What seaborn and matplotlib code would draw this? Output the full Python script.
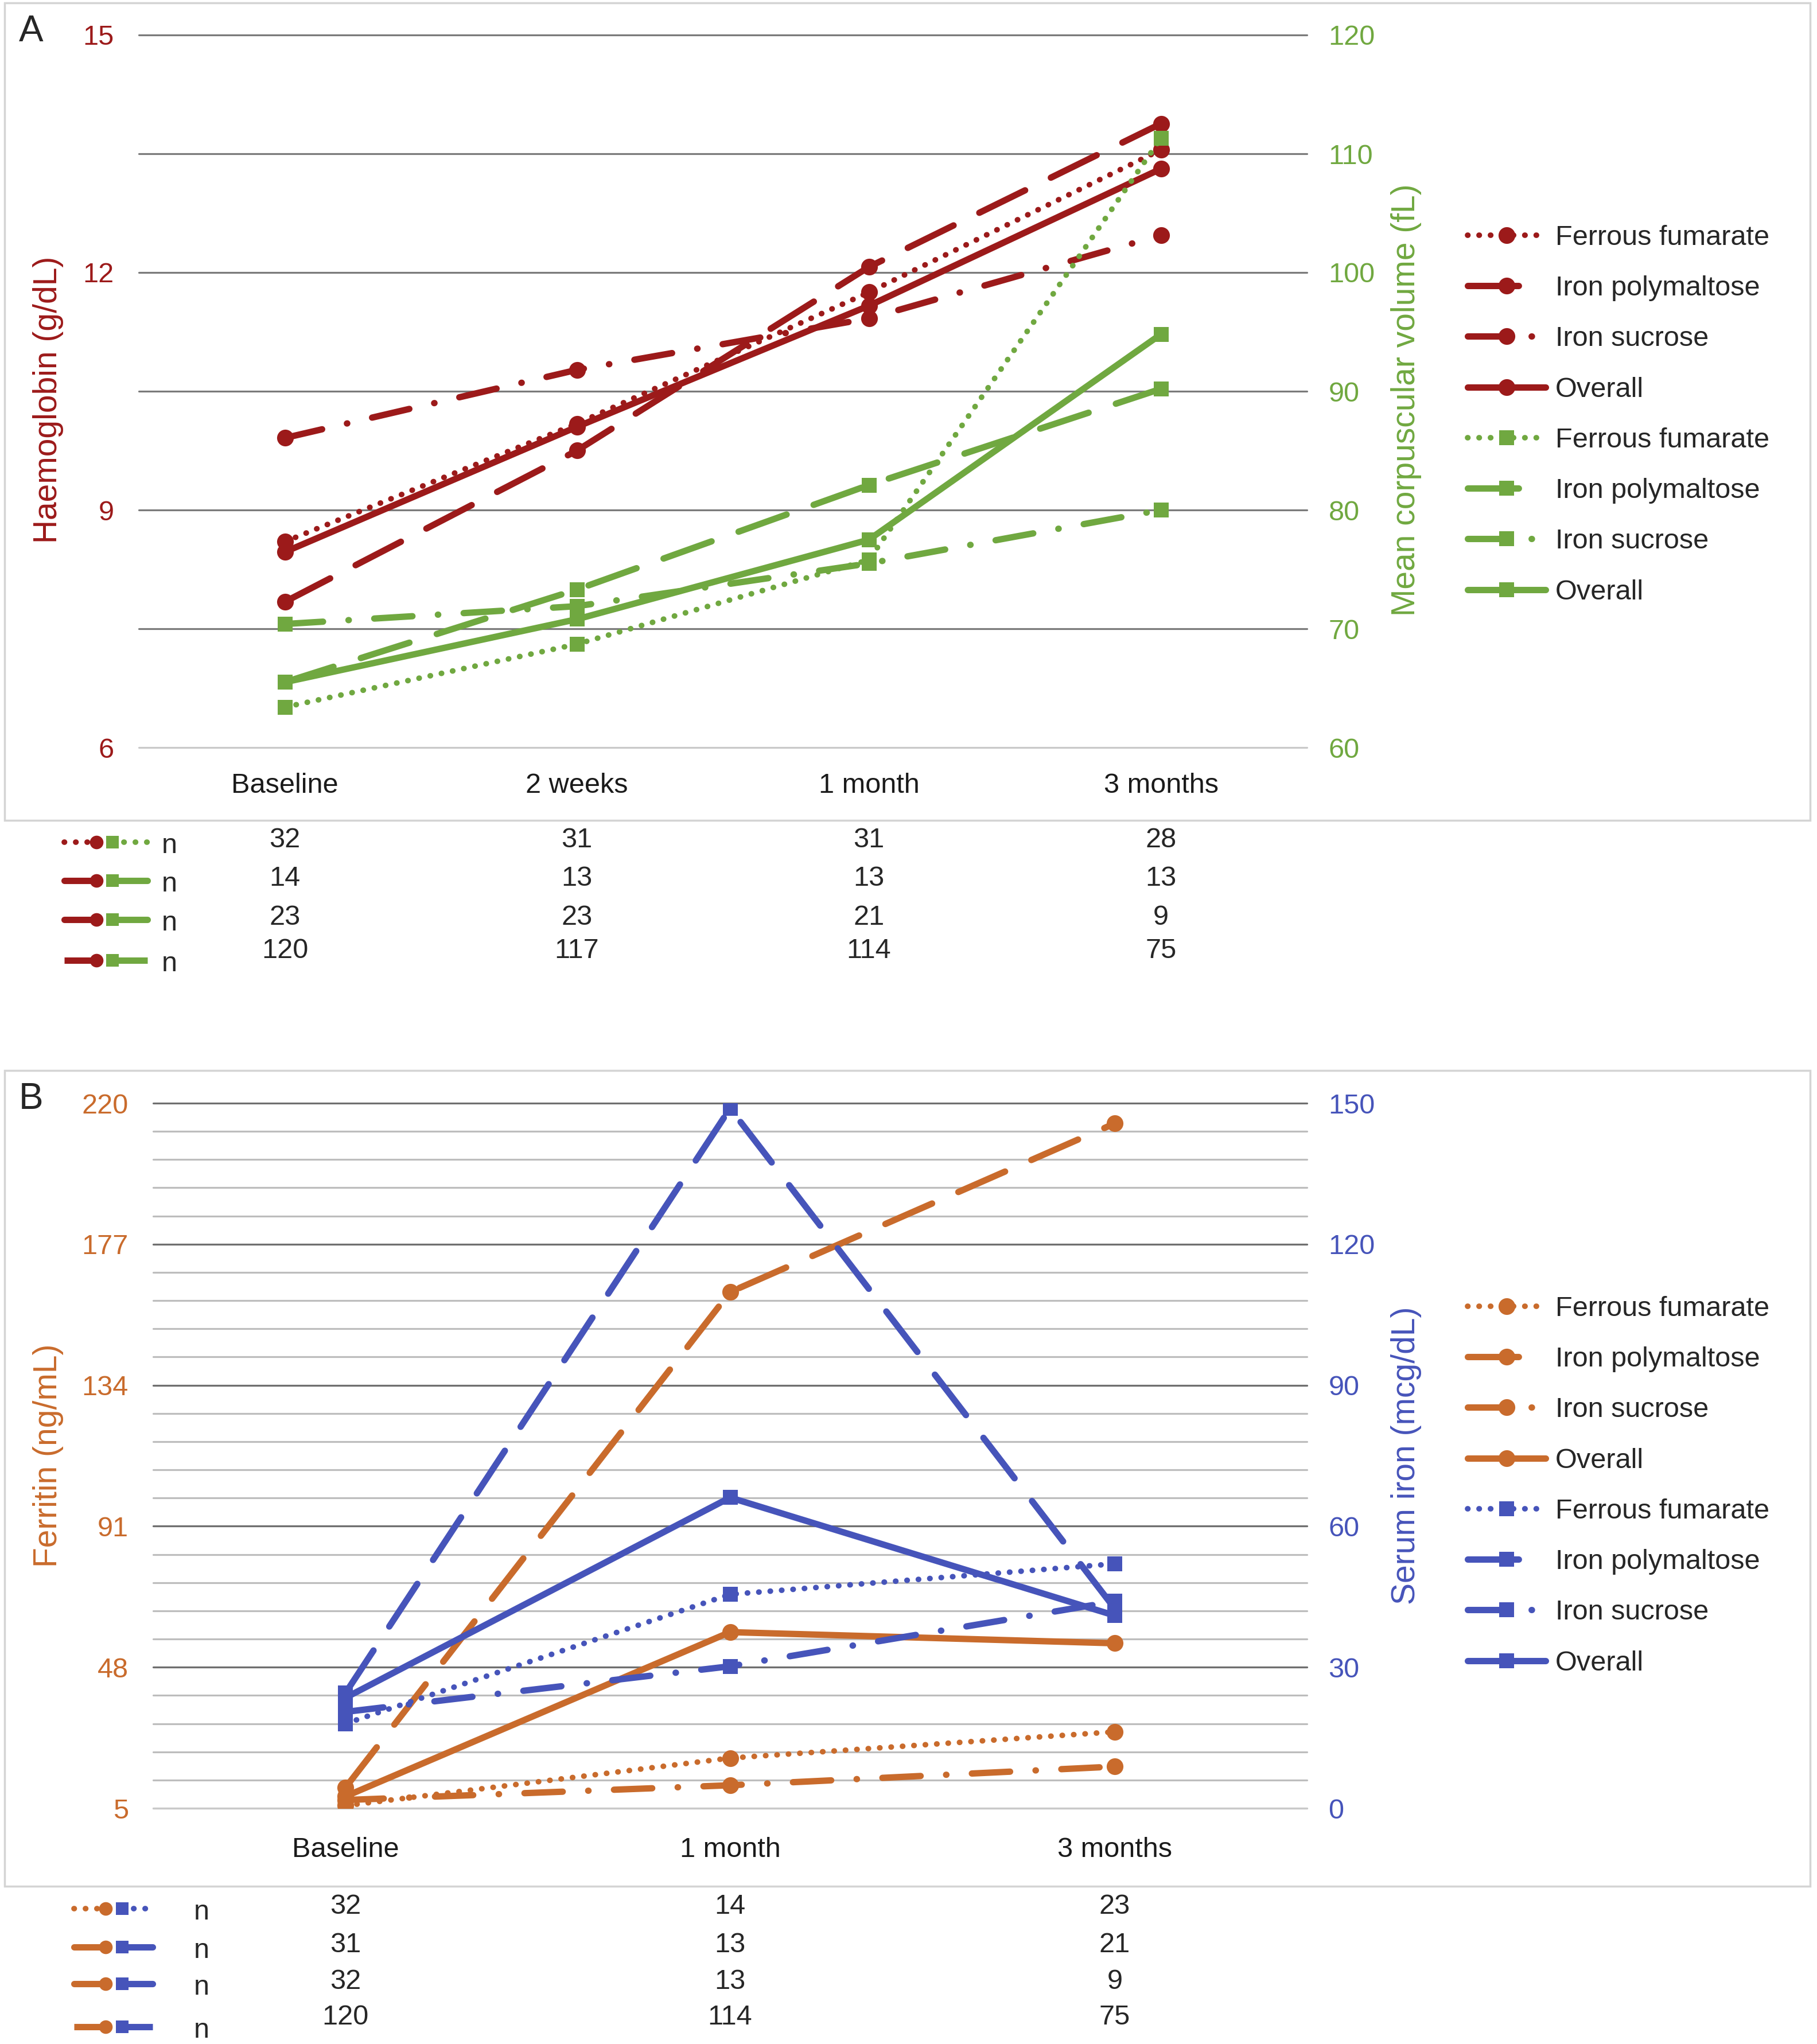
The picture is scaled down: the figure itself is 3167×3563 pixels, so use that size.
import numpy as np
import pandas as pd
import seaborn as sns
import matplotlib.pyplot as plt
import matplotlib.transforms as mtrans
from matplotlib.lines import Line2D
from matplotlib.patches import Rectangle

# ---------------- data ----------------
groups = ['Ferrous fumarate', 'Iron polymaltose', 'Iron sucrose', 'Overall']

times_a = ['Baseline', '2 weeks', '1 month', '3 months']
hgb_ff = [8.60, 10.09, 11.75, 13.55]
hgb_ipm = [7.84, 9.75, 12.07, 13.88]
hgb_is = [9.91, 10.77, 11.42, 12.47]
hgb_all = [8.47, 10.05, 11.58, 13.31]

mcv_ff = [63.4, 68.7, 75.8, 111.3]
mcv_ipm = [65.5, 73.3, 82.1, 90.2]
mcv_is = [70.4, 71.9, 75.5, 80.0]
mcv_all = [65.5, 70.8, 77.5, 94.8]

n_a_ff = [32, 31, 31, 28]
n_a_ipm = [14, 13, 13, 13]
n_a_is = [23, 23, 21, 9]
n_a_all = [120, 117, 114, 75]

times_b = ['Baseline', '1 month', '3 months']
fer_ff = [5.8, 20.3, 28.3]
fer_ipm = [11.3, 162.4, 213.8]
fer_is = [7.5, 12.0, 17.7]
fer_all = [8.6, 58.7, 55.3]

iron_ff = [18.0, 45.5, 52.0]
iron_ipm = [24.5, 148.9, 42.5]
iron_is = [20.5, 30.2, 44.0]
iron_all = [23.5, 66.1, 41.0]

n_b_ff = [32, 14, 23]
n_b_ipm = [31, 13, 21]
n_b_is = [32, 13, 9]
n_b_all = [120, 114, 75]

hgb_ticks = [6, 9, 12, 15]
mcv_ticks = [60, 70, 80, 90, 100, 110, 120]
fer_ticks = [5, 48, 91, 134, 177, 220]
iron_ticks = [0, 30, 60, 90, 120, 150]

# ---------------- styles ----------------
RED = '#9C1A1A'
GREEN = '#70A840'
ORANGE = '#C96B2C'
BLUE = '#4654BA'
W, H = 3167, 3563
FS = 35

line_styles = {
    'Ferrous fumarate': (0, (0.05, 2.0)),
    'Iron polymaltose': (0, (8, 4.5)),
    'Iron sucrose': (0, (6, 4, 0.05, 4)),
    'Overall': '-',
}


def fx(px):
    return px / W


def fy(py):
    return 1 - py / H


def long_frame(times, series):
    return pd.DataFrame({
        'pos': np.tile(np.arange(len(times)), len(groups)),
        'group': np.repeat(groups, len(times)),
        'value': np.concatenate(series),
    })


def draw_series(ax, df, color, marker, msize):
    lines = []
    for g in groups:
        sub = df[df['group'] == g]
        lw = 7 if g == 'Ferrous fumarate' else 8
        sns.lineplot(data=sub, x='pos', y='value', ax=ax, color=color, errorbar=None,
                     linestyle=line_styles[g], linewidth=lw, marker=marker,
                     markersize=msize, mec=color, mew=0, dash_capstyle='round',
                     solid_capstyle='round', legend=False)
        line = ax.lines[-1]
        line.set_label(g)
        lines.append(line)
    return lines


def draw_panel(fig, box, times, left_df, right_df, lcol, rcol, lmarker, rmarker,
               lticks, lminor, rticks, lname, rname, letter, frame, leg_y,
               xpad, ylab_y, n_rows, row_y, n_x, handle_x, grid_cols):
    left_px, top_px, right_px, bot_px = box
    ax = fig.add_axes([fx(left_px), fy(bot_px), fx(right_px - left_px),
                       (bot_px - top_px) / H])
    ax2 = ax.twinx()

    # gridlines (Excel style, behind everything)
    major_c, minor_c, base_c = grid_cols
    for v in lminor:
        ax.axhline(v, color=minor_c, lw=2.3, zorder=0, clip_on=False)
    for v in lticks[1:]:
        ax.axhline(v, color=major_c, lw=2.3, zorder=0, clip_on=False)
    ax.axhline(lticks[0], color=base_c, lw=2.3, zorder=0, clip_on=False)

    left_lines = draw_series(ax, left_df, lcol, lmarker, 21)
    right_lines = draw_series(ax2, right_df, rcol, rmarker, 19)

    n = len(times)
    ax.set_xlim(-0.5, n - 0.5)
    ax.set_xticks(np.arange(n), times)
    ax.set_ylim(lticks[0], lticks[-1])
    ax.set_yticks(lticks)
    ax2.set_ylim(rticks[0], rticks[-1])
    ax2.set_yticks(rticks)
    for a in (ax, ax2):
        for s in a.spines.values():
            s.set_visible(False)
        a.set_xlabel('')
        a.tick_params(length=0)
        a.grid(False)
    ax.patch.set_alpha(0)
    ax.tick_params(axis='x', labelsize=FS, pad=xpad, labelcolor='#1a1a1a')
    ax.tick_params(axis='y', labelsize=FS, pad=31, labelcolor=lcol)
    ax2.tick_params(axis='y', labelsize=FS, pad=27, labelcolor=rcol)

    ax.set_ylabel(lname, fontsize=41, color=lcol, va='center')
    ax2.set_ylabel(rname, fontsize=41, color=rcol, va='center')
    span = right_px - left_px
    ax.yaxis.set_label_coords((84 - left_px) / span, ylab_y)
    ax2.yaxis.set_label_coords((2451 - left_px) / span, ylab_y)

    ax2.legend(handles=left_lines + right_lines, labels=groups + groups,
               loc='center left', bbox_to_anchor=(fx(2558), leg_y),
               bbox_transform=fig.transFigure, frameon=False, fontsize=FS,
               handlelength=2.8, handletextpad=0.35, labelspacing=0.89,
               borderpad=0, borderaxespad=0, numpoints=1)

    # panel frame and letter
    fig.add_artist(Rectangle((fx(frame[0]), fy(frame[3])), fx(frame[2] - frame[0]),
                             (frame[3] - frame[1]) / H, transform=fig.transFigure,
                             fill=False, ec='#d4d4d4', lw=2.5))
    fig.text(fx(33), fy(frame[1] + 50), letter, fontsize=46, ha='left', va='center')

    # n table under the axis
    trans = mtrans.blended_transform_factory(ax.transData, fig.transFigure)
    x0, xc, xs, x1 = handle_x
    for k, (g, counts) in enumerate(zip(groups, n_rows)):
        yy = row_y[k]
        hy = yy + (17 if k == 3 else 4)
        lw = 7 if k == 0 else 8
        fig.add_artist(Line2D([fx(x0), fx(xc)], [fy(hy), fy(hy)], color=lcol, lw=lw,
                              linestyle=line_styles[g], dash_capstyle='round',
                              solid_capstyle='butt', marker=lmarker, markevery=[1],
                              markersize=17, mew=0, transform=fig.transFigure))
        fig.add_artist(Line2D([fx(xs), fx(x1)], [fy(hy), fy(hy)], color=rcol, lw=lw,
                              linestyle=line_styles[g], dash_capstyle='round',
                              solid_capstyle='butt', marker=rmarker, markevery=[0],
                              markersize=16, mew=0, transform=fig.transFigure))
        fig.text(fx(n_x), fy(hy + 6), 'n', fontsize=FS, ha='center', va='center')
        for i, c in enumerate(counts):
            ax.text(i, fy(yy), str(c), transform=trans, fontsize=FS,
                    ha='center', va='center', clip_on=False)
    return ax, ax2


sns.set_style('white')
plt.rcParams['font.family'] = ['Liberation Sans', 'DejaVu Sans']

fig = plt.figure(figsize=(W / 100, H / 100), dpi=100)
fig.patch.set_facecolor('white')

df_hgb = long_frame(times_a, [hgb_ff, hgb_ipm, hgb_is, hgb_all])
df_mcv = long_frame(times_a, [mcv_ff, mcv_ipm, mcv_is, mcv_all])
df_fer = long_frame(times_b, [fer_ff, fer_ipm, fer_is, fer_all])
df_iron = long_frame(times_b, [iron_ff, iron_ipm, iron_is, iron_all])

hgb_minor = [7.5, 10.5, 13.5]
fer_minor = list(np.arange(fer_ticks[0], fer_ticks[-1], 8.6))

draw_panel(fig, (242, 61, 2278, 1303), times_a, df_hgb, df_mcv, RED, GREEN, 'o', 's',
           hgb_ticks, hgb_minor, mcv_ticks, 'Haemoglobin (g/dL)',
           'Mean corpuscular volume (fL)', 'A', (8, 5, 3155, 1430), 0.797,
           32, 0.488, [n_a_ff, n_a_ipm, n_a_is, n_a_all], [1464, 1531, 1599, 1657],
           295, (112, 168, 196, 257), ('#7a7a7a', '#7a7a7a', '#c9c9c9'))

draw_panel(fig, (267, 1923, 2278, 3152), times_b, df_fer, df_iron, ORANGE, BLUE, 'o', 's',
           fer_ticks, fer_minor, iron_ticks, 'Ferritin (ng/mL)',
           'Serum iron (mcg/dL)', 'B', (8, 1866, 3155, 3288), 0.273,
           36, 0.5, [n_b_ff, n_b_ipm, n_b_is, n_b_all], [3323, 3390, 3454, 3516],
           351, (129, 184, 213, 266), ('#6f6f6f', '#bdbdbd', '#c9c9c9'))

fig.savefig('out.png', dpi=100, facecolor='white')
